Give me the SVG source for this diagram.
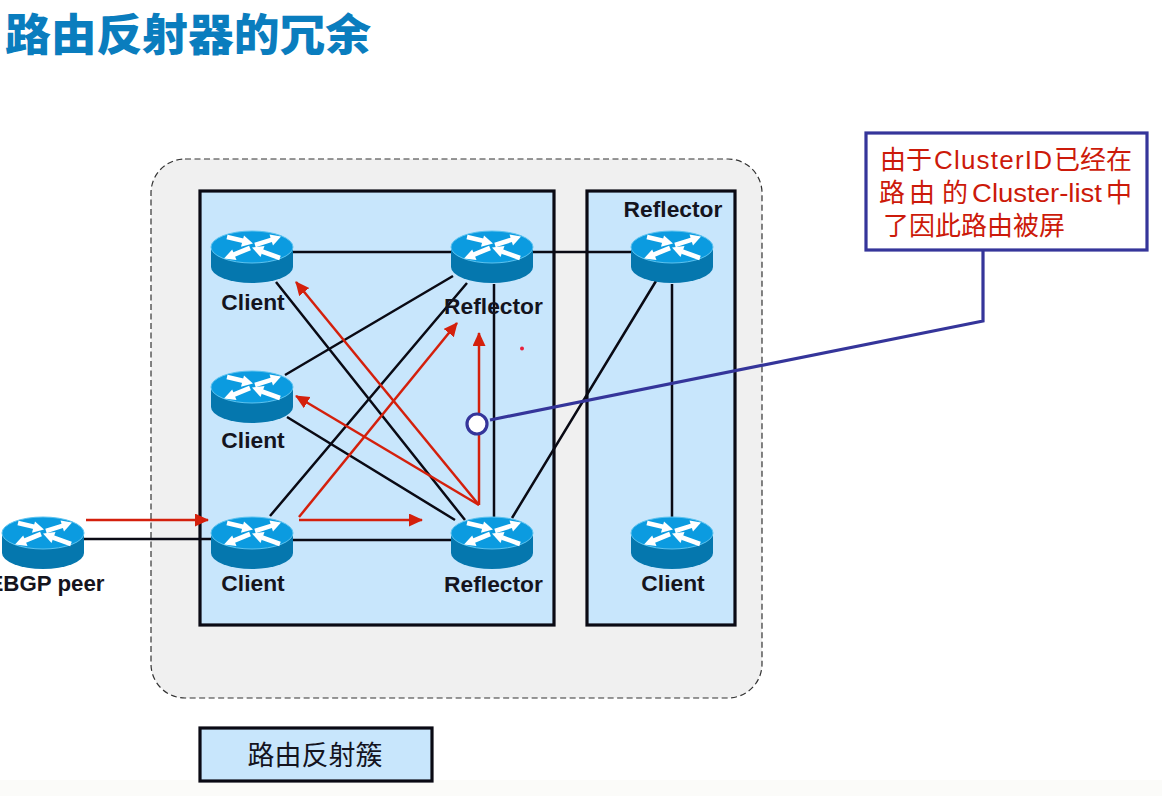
<svg xmlns="http://www.w3.org/2000/svg" xmlns:xlink="http://www.w3.org/1999/xlink" width="1162" height="796" viewBox="0 0 1162 796">
<style>
.lbl{font-family:"Liberation Sans",Arial,sans-serif;font-weight:700;font-size:22.800px;fill:#14141e;text-anchor:middle}
.blk{stroke:#0a0a14;stroke-width:2.500;fill:none}
.red{stroke:#d4200c;stroke-width:2.500;fill:none;marker-end:url(#ah)}
.panel{fill:#c8e6fc;stroke:#0a0a14;stroke-width:3.200}
.cjk{font-family:"Noto Sans CJK SC","Liberation Sans",sans-serif}
.note{font-family:"Liberation Sans","Noto Sans CJK SC",sans-serif;font-size:26px;fill:#cc1a0a}
</style>
<defs>
<marker id="ah" markerUnits="userSpaceOnUse" markerWidth="15" markerHeight="14" refX="13" refY="6.500" orient="auto"><path d="M0 0L14 6.500L0 13z" fill="#d4200c"/></marker>
<symbol id="router" overflow="visible">
<path d="M-41 16V36A41 16 0 0 0 41 36V16z" fill="#0577ae"/>
<ellipse cx="0" cy="16" rx="41" ry="16" fill="#0b9be0" stroke="#5cc3f0" stroke-width="1"/>
<g stroke="#fff" stroke-width="4.600" fill="none">
<path d="M-25 6L-8 10M3 14L20 8.600M-2 17L-19 24M28 27L10 20.500"/>
</g>
<g fill="#fff">
<path d="M1 12.500L-11 15.800L-8 4.600z"/>
<path d="M29 5.500L21 14.500L17.500 3.600z"/>
<path d="M-28 27.500L-15.500 29L-19.800 18.500z"/>
<path d="M0 16.500L12.500 15L8.500 26z"/>
</g>
</symbol>
</defs>
<rect width="1162" height="796" fill="#fff"/>
<rect y="780" width="1162" height="16" fill="#fbfbf9"/>
<text id="title" class="cjk" x="5" y="51" font-size="44" font-weight="900" fill="#0a7dbe" textLength="366" lengthAdjust="spacingAndGlyphs">路由反射器的冗余</text>
<rect id="cluster-bg" x="151" y="159" width="611" height="539" rx="34" fill="#f0f0f0" stroke="#333" stroke-width="1.200" stroke-dasharray="6 3.500"/>
<rect id="panel-a" class="panel" x="200" y="191" width="354" height="434"/>
<rect id="panel-b" class="panel" x="587" y="191" width="148" height="434"/>
<g id="connectors">
<path class="blk" d="M293 252H452M532 252H632M84 539H212M293 540H452"/>
<path class="blk" d="M276 282L465 520M285 375L453 276M287 417L455 520M270 516L467 283M494 284V517M512 518L656 281M672 284V517"/>
<path class="red" d="M86 520H208"/>
<path class="red" d="M299 520H422"/>
<path class="red" d="M299 517L457 323"/>
<path class="red" d="M479 505L296 282"/>
<path class="red" d="M479 505L296 396"/>
<path class="red" d="M479 505V333"/>
<path d="M490 420L983 321V250" fill="none" stroke="#35359a" stroke-width="3.200"/>
</g>
<circle id="marker-dot" cx="522" cy="348.500" r="2" fill="#e8203c"/>
<circle id="junction" cx="477" cy="424" r="10" fill="#fff" stroke="#35359a" stroke-width="3.200"/>
<g id="n1"><use href="#router" x="252" y="231"/><text class="lbl" x="253" y="310">Client</text></g>
<g id="n2"><use href="#router" x="492" y="231"/><text class="lbl" x="493.500" y="314">Reflector</text></g>
<g id="n3"><use href="#router" x="672" y="231"/><text class="lbl" x="673" y="217">Reflector</text></g>
<g id="n4"><use href="#router" x="252" y="371"/><text class="lbl" x="253" y="448">Client</text></g>
<g id="n5"><use href="#router" x="252" y="517"/><text class="lbl" x="253" y="591">Client</text></g>
<g id="n6"><use href="#router" x="492" y="517"/><text class="lbl" x="493.500" y="592">Reflector</text></g>
<g id="n7"><use href="#router" x="672" y="517"/><text class="lbl" x="673" y="591">Client</text></g>
<g id="n8"><use href="#router" x="43" y="517"/><text class="lbl" x="46.500" y="591" style="font-size:22.300px">EBGP peer</text></g>
<g id="note">
<rect x="866" y="133" width="281" height="117" fill="#fff" stroke="#35359a" stroke-width="3.200"/>
<text class="note" y="169"><tspan x="880">由于</tspan><tspan x="934" textLength="118" lengthAdjust="spacing">ClusterID</tspan><tspan x="1054">已经在</tspan></text>
<text class="note" y="202"><tspan x="879">路</tspan><tspan x="909">由</tspan><tspan x="942">的</tspan><tspan x="972" textLength="130" lengthAdjust="spacingAndGlyphs">Cluster-list</tspan><tspan x="1106">中</tspan></text>
<text class="note" x="883" y="235">了因此路由被屏</text>
</g>
<g id="legend">
<rect x="200" y="728" width="232" height="53" fill="#c8e6fc" stroke="#0a0a14" stroke-width="3.200"/>
<text class="cjk" x="315" y="765" font-size="27" fill="#14141e" text-anchor="middle">路由反射簇</text>
</g>
</svg>
